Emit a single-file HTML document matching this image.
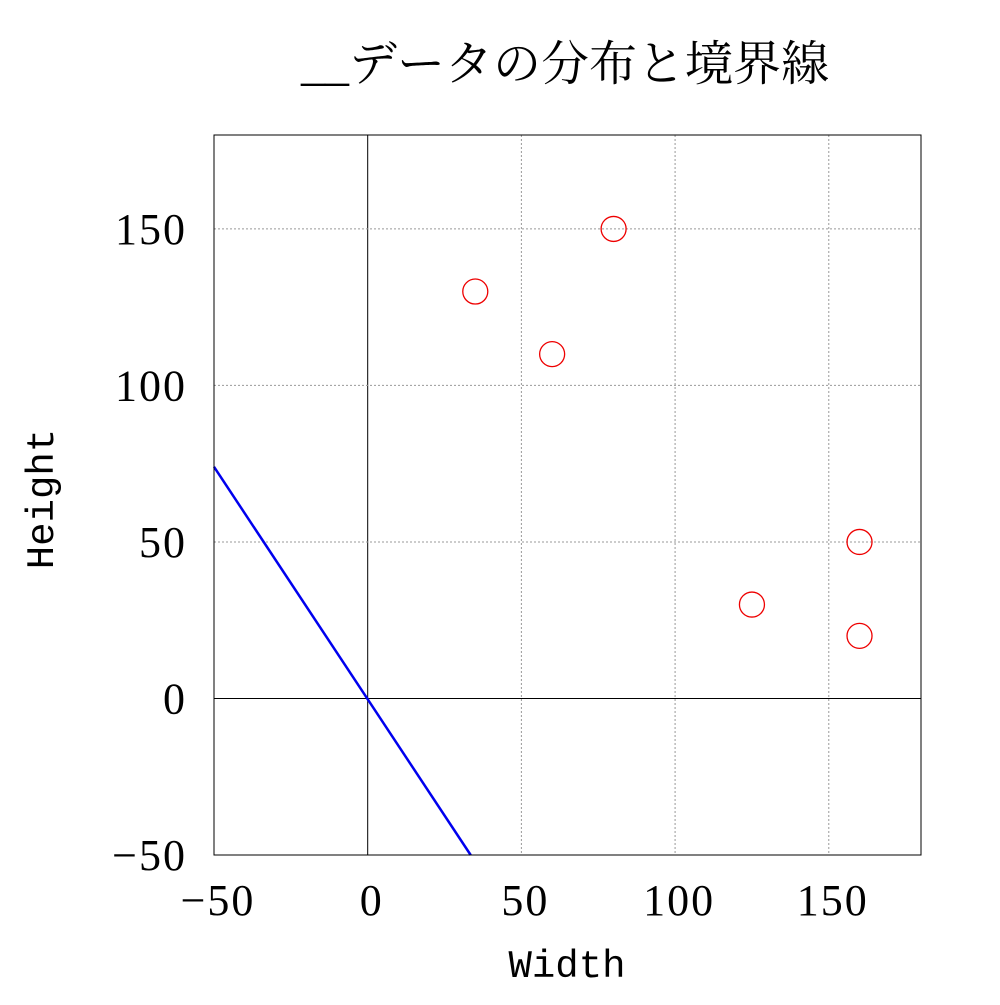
<!DOCTYPE html>
<html><head><meta charset="utf-8">
<style>
body{margin:0;background:#fff;}
svg text{fill:#000;}
.tick{font-family:"Liberation Serif","Noto Serif CJK SC",serif;font-size:44px;letter-spacing:2px;}
.ttl{font-family:"Liberation Serif","Noto Serif CJK JP",serif;font-size:48px;}
.ax{font-family:"Liberation Mono",monospace;font-size:39px;}
</style></head>
<body>
<svg id="chart" width="1000" height="1000" xmlns="http://www.w3.org/2000/svg">
<rect width="1000" height="1000" fill="#fff"/>
<text class="ttl" x="565" y="80" text-anchor="middle">__データの分布と境界線</text>
<text class="ax" x="567" y="977" text-anchor="middle">Width</text>
<text class="ax" x="53" y="499" text-anchor="middle" transform="rotate(-90 53 499)">Height</text>
<g id="grid"></g>
<g id="marks"></g>
<rect x="214" y="135" width="707" height="720" fill="none" stroke="#000" stroke-width="1"/>
</svg>
<script>
const xTicks=[-50,0,50,100,150];
const yTicks=[-50,0,50,100,150];
const pointsX=[35,60,80,125,160,160];
const pointsY=[130,110,150,30,50,20];
const lineX=[-50,33.5];
const lineY=[74,-50];
const X0=214,X1=921,Y0=855,Y1=135,MIN=-50,MAX=180;
function sx(v){return X0+(v-MIN)/(MAX-MIN)*(X1-X0);}
function sy(v){return Y0-(v-MIN)/(MAX-MIN)*(Y0-Y1);}
const NS="http://www.w3.org/2000/svg";
const grid=document.getElementById('grid'),marks=document.getElementById('marks');
function mk(tag,attrs,parent){const e=document.createElementNS(NS,tag);for(const k in attrs)e.setAttribute(k,attrs[k]);parent.appendChild(e);return e;}
xTicks.forEach(t=>{
  const x=sx(t);
  if(t!==MIN){
    const g=mk('line',{x1:x,x2:x,y1:Y1,y2:Y0,stroke:t===0?'#000':'#999','stroke-width':1,'stroke-dasharray':t===0?'none':'2,2'},grid);
    
    
  }
  const l=mk('text',{x:x+4,y:915,'text-anchor':'middle','class':'tick'},grid);
  l.textContent=t<0?'\u2212'+(-t):String(t);
  
  
});
yTicks.forEach(t=>{
  const y=sy(t);
  if(t!==MIN){
    const g=mk('line',{x1:X0,x2:X1,y1:y,y2:y,stroke:t===0?'#000':'#999','stroke-width':1,'stroke-dasharray':t===0?'none':'2,2'},grid);
    
    
  }
  const l=mk('text',{x:187,y:y+15,'text-anchor':'end','class':'tick'},grid);
  l.textContent=t<0?'\u2212'+(-t):String(t);
  
  
});
const ln=mk('line',{x1:sx(lineX[0]),y1:sy(lineY[0]),x2:sx(lineX[1]),y2:sy(lineY[1]),stroke:'#0000ee','stroke-width':2.5},marks);


pointsX.forEach((v,i)=>{
  const c=mk('circle',{cx:sx(v),cy:sy(pointsY[i]),r:12.5,fill:'none',stroke:'#ee0000','stroke-width':1.3},marks);
  
  
});
</script>
</body></html>
